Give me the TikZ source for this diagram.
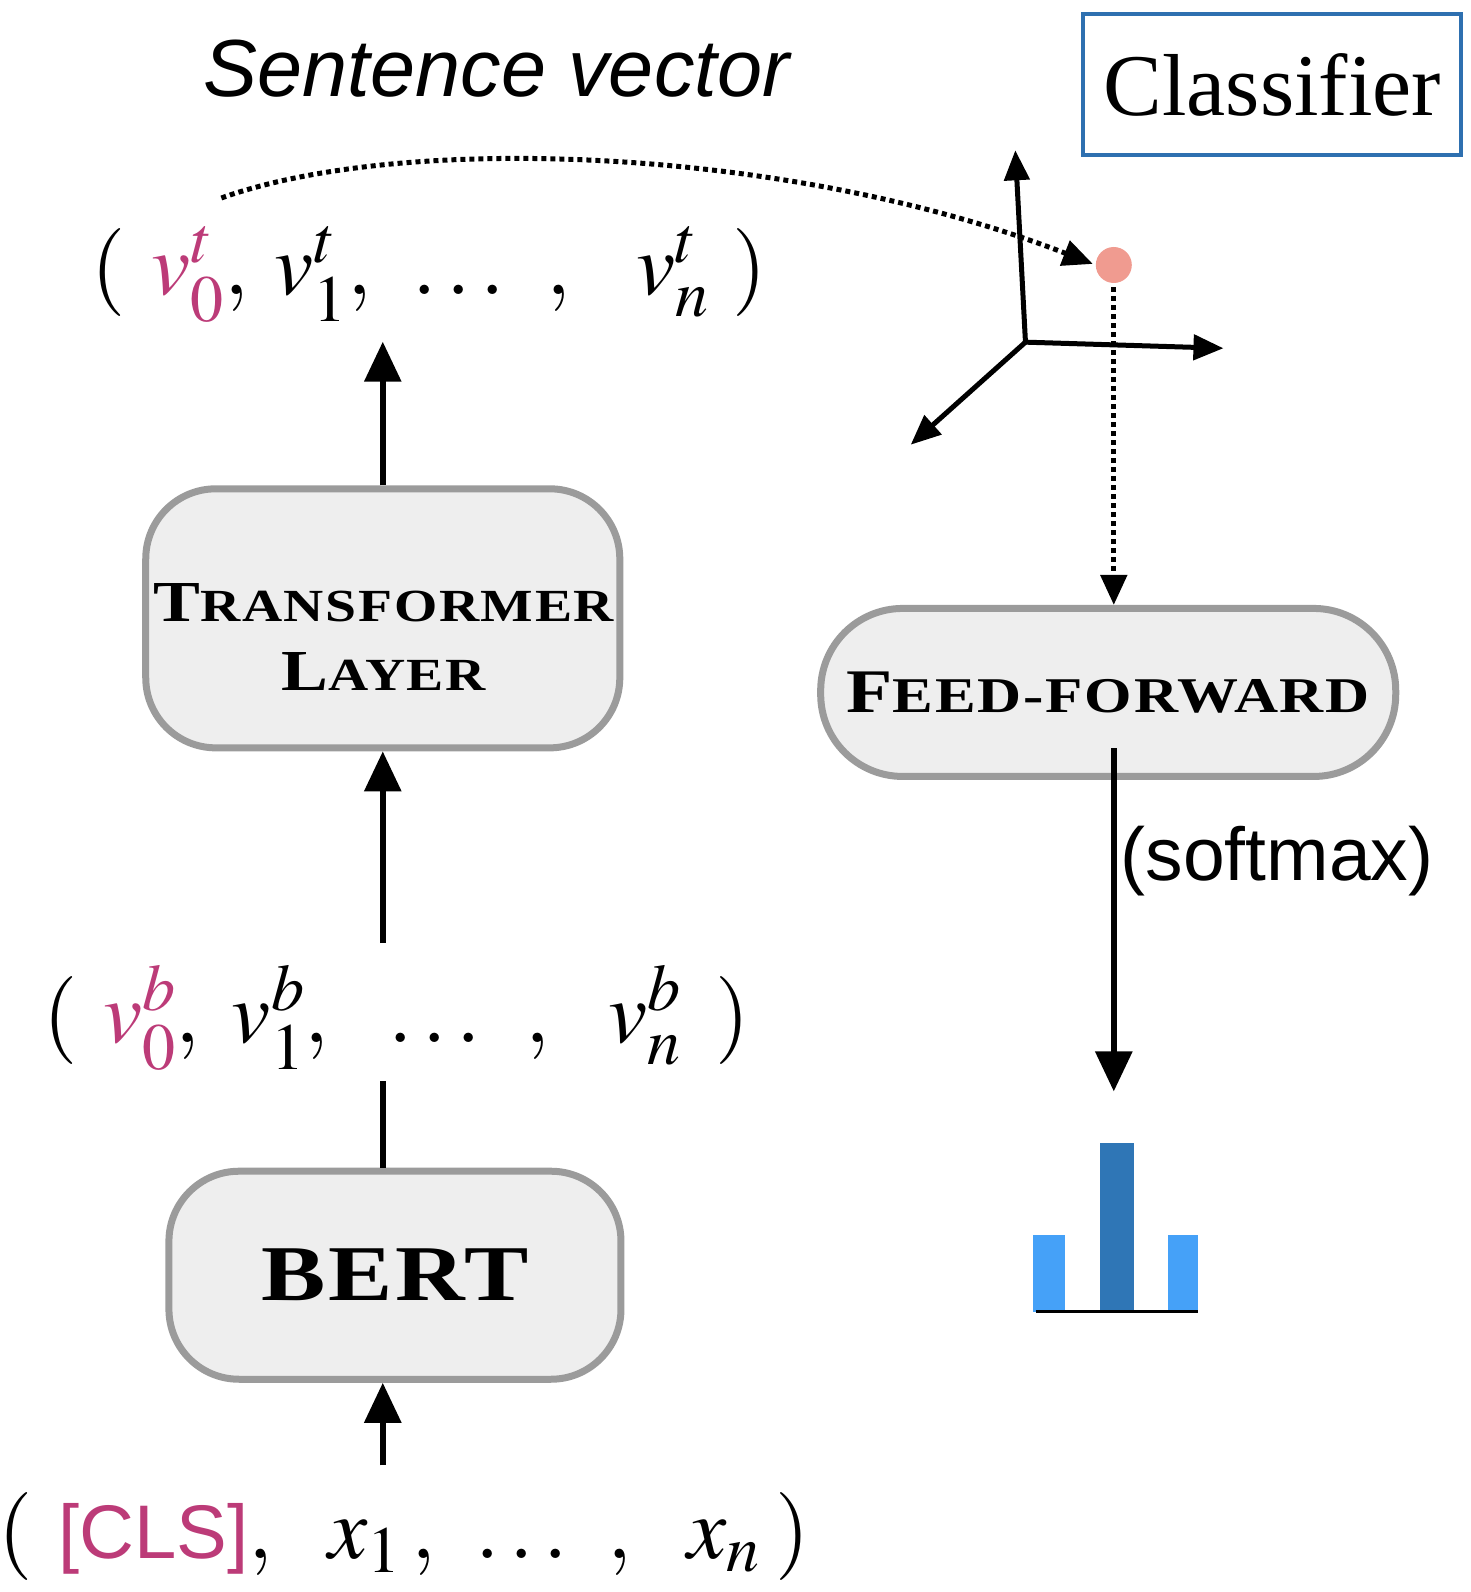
\documentclass[tikz,border=0pt]{standalone}
\usepackage{mathptmx}
\usepackage{fontspec}
\usepackage{graphicx}
\usetikzlibrary{arrows.meta}
\setmainfont{Liberation Serif}
\newfontfamily\helv{Liberation Sans}
\newfontfamily\cpfont[LetterSpace=3]{Liberation Serif}
\DeclareMathSizes{88}{88}{66}{50}
\definecolor{boxgray}{HTML}{9B9B9B}
\definecolor{boxfill}{HTML}{EEEEEE}
\definecolor{clsblue}{HTML}{2E70B0}
\definecolor{clsmag}{HTML}{BC3B78}
\definecolor{dotpink}{HTML}{F09B90}
\definecolor{barlight}{HTML}{45A1F8}
\definecolor{bardark}{HTML}{2F76B6}
\newcommand\capword[4]{{\fontsize{#3}{#3}\selectfont #1}{\fontsize{#4}{#4}\selectfont #2}}

\begin{document}
\begin{tikzpicture}[x=1.0152pt,y=-1.0152pt,
    roundbox/.style={draw=boxgray,line width=7pt,fill=boxfill,rounded corners=#1,inner sep=0pt},
    boxtext/.style={font=\cpfont\bfseries,align=center,inner sep=0pt},
    vecrow/.style={font=\fontsize{88}{90}\selectfont,inner sep=0pt,anchor=base west},
    uparr/.style={line width=6pt,-{Triangle[length=40pt,width=36pt]}},
    dotarr/.style={line width=5pt,dash pattern=on 5pt off 4pt,-{Triangle[length=30pt,width=26pt]}},
    axarr/.style={line width=5pt,-{Triangle[length=30pt,width=25pt]}}]
  \useasboundingbox (0,0) rectangle (1448,1568);

  \node[font=\helv\itshape\fontsize{81}{90}\selectfont,anchor=base,inner sep=0pt] (title) at (489,95) {Sentence vector};
  \node[draw=clsblue,line width=4pt,minimum width=378pt,minimum height=141pt,inner sep=0pt,
    font=\fontsize{88}{90}\selectfont] (clsf) at (1253,83.5) {Classifier};

  \node[vecrow] (vt) at (90,290) {$(\hspace{26pt}\textcolor{clsmag}{v^{t}_{0}}{,}\hspace{26pt}v^{t}_{1}{,}\hspace{31pt}\ldots\hspace{32pt}{,}\hspace{65pt}v^{t}_{n}\hspace{24pt})$};
  \node[roundbox=70pt,minimum width=474pt,minimum height=259pt] (tfbox) at (377,609) {};
  \node[boxtext,font=\cpfont\bfseries\fontsize{58}{69}\selectfont] (tftext) at (378,627)
    {\scalebox{1.21}[1]{\capword{T}{RANSFORMER}{58}{46}}\\\scalebox{1.21}[1]{\capword{L}{AYER}{58}{46}}};
  \node[vecrow] (vb) at (43,1027) {$(\hspace{25pt}\textcolor{clsmag}{v^{b}_{0}}{,}\hspace{32pt}v^{b}_{1}{,}\hspace{50pt}\ldots\hspace{35pt}{,}\hspace{58pt}v^{b}_{n}\hspace{34pt})$};
  \node[roundbox=70pt,minimum width=452pt,minimum height=208pt,boxtext] (bertbox) at (389,1256)
    {\scalebox{1.22}[1]{\fontsize{79}{80}\selectfont BERT}};
  \node[vecrow] (xrow) at (-2,1535) {$(\hspace{26pt}\textcolor{clsmag}{\mbox{\helv\fontsize{76}{80}\selectfont[CLS]}}{,}\hspace{56pt}x_{1}\hspace{10pt}{,}\hspace{30pt}\ldots\hspace{30pt}{,}\hspace{55pt}x_{n}\hspace{16pt})$};

  \draw[uparr,shorten >=19pt] (tfbox.north) -- (tfbox.north |- vt.south);
  \draw[uparr,shorten <=22pt] (tfbox.south |- vb.north) -- (tfbox.south);
  \draw[line width=6pt,shorten >=10pt] (tfbox.south |- bertbox.north) -- (tfbox.south |- vb.south);
  \draw[uparr,shorten <=27pt] (tfbox.south |- xrow.north) -- (tfbox.south |- bertbox.south);

  % embedding space
  \coordinate (axo) at (1010,337);
  \coordinate (axup) at (1000,148);
  \coordinate (axright) at (1205,343);
  \coordinate (axdiag) at (897,438);
  \draw[axarr] (axo) -- (axup);
  \draw[axarr] (axo) -- (axright);
  \draw[axarr] (axo) -- (axdiag);
  \node[circle,fill=dotpink,minimum size=36pt,inner sep=0pt] (pt) at (1097,261) {};
  \coordinate (arcstart) at (218,195);
  \draw[dotarr,shorten >=3pt] (arcstart) .. controls (400,130) and (780,145) .. (pt.west);

  \node[roundbox=82pt,minimum width=575pt,minimum height=168pt,boxtext] (ffbox) at (1091.5,682)
    {\scalebox{1.22}[1]{\capword{F}{EED-FORWARD}{62}{50}}};
  \draw[dotarr,shorten <=4pt] (pt.south) -- (pt.south |- ffbox.north);

  \coordinate (ffout) at (1097,737);
  \coordinate (probtip) at (1097,1075);
  \draw[uparr] (ffout) -- (probtip)
    node[pos=0.33,right=4pt,font=\helv\fontsize{75}{80}\selectfont,inner sep=0pt] (softlbl) {(softmax)};

  \fill[barlight] (1017,1216) rectangle (1049,1292);
  \fill[bardark] (1083,1126) rectangle (1117,1292);
  \fill[barlight] (1150,1216) rectangle (1180,1292);
  \draw[line width=3pt] (1020,1292) -- (1180,1292);
\end{tikzpicture}
\end{document}
